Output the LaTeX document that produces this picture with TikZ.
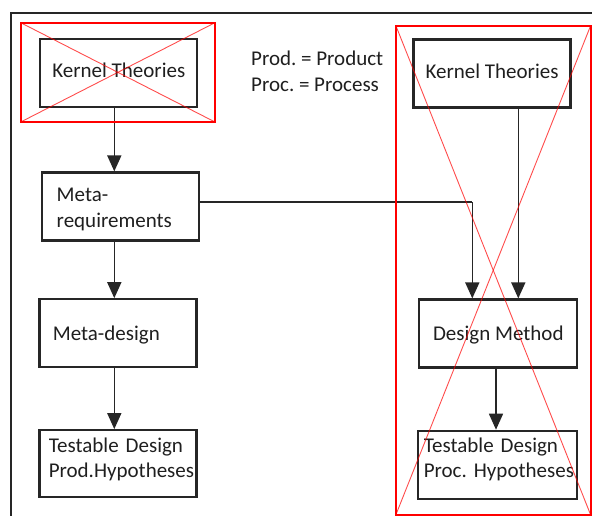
\documentclass[tikz,border=0pt]{standalone}
\usepackage{fontspec}
\setmainfont{Carlito}
\usetikzlibrary{arrows.meta}
% first baseline placed #1 above the node centre; zero-size box so the node does not re-centre it
\newcommand\placelines[2]{\smash{\raisebox{#1}{\begin{tabular}[t]{@{}l@{}}#2\end{tabular}}}}
\tikzset{
  box/.style={draw=black!85, line width=2.2pt, minimum width=157pt, minimum height=68pt,
    inner sep=0pt, font=\fontsize{21}{25.5}\selectfont, text=black!88},
  lbox/.style={box, align=left, inner xsep=#1, text width=157pt-2*#1},
  arr/.style={draw=black!85, line width=1.6pt, -{Triangle[length=16pt,width=14pt]}},
  link/.style={draw=black!85, line width=1.6pt},
  frame/.style={draw=black!85, line width=1.6pt},
  redbox/.style={draw=red, line width=2pt},
  redx/.style={draw=red, line width=0.9pt, draw opacity=0.7},
  legend/.style={font=\fontsize{21}{25}\selectfont, text=black!88, inner sep=0pt, anchor=base west}
}
\begin{document}
\frenchspacing
\begin{tikzpicture}[x=1pt, y=-1pt]
\useasboundingbox (0,0) rectangle (592,516);
\draw[frame] (11,516) -- (11,13) -- (592,13);

% left column
\node[box] (kt1) at (118.8,73) {\smash{\raisebox{-4.3pt}{Kernel Theories}}};
\node[lbox=14.7pt] (mr) at (120.5,206.5) {\placelines{4.8pt}{Meta-\\requirements}};
\node[lbox=13.3pt] (md) at (118,333.3) {\placelines{-6.7pt}{Meta-design}};
\node[lbox=9.3pt, minimum height=67pt] (tp1) at (118,463.7) {\placelines{11.4pt}{Testable Design\\Prod.Hypotheses}};

% right column
\node[box] (kt2) at (492,73.5) {\smash{\raisebox{-5.5pt}{Kernel Theories}}};
\node[box, minimum width=158pt] (dm) at (498.3,333.5) {\smash{\raisebox{-6.5pt}{Design Method}}};
\node[lbox=6pt, minimum width=159pt, text width=147pt] (tp2) at (497.3,464.8) {\placelines{12.5pt}{Testable Design\\Proc. Hypotheses}};

% legend
\node[legend] (lg1) at (251,66) {Prod. = Product};
\node[legend] (lg2) at (251,92) {Proc. = Process};

% helper coordinates
\coordinate (lx) at (114.3,0);
\coordinate (ly) at (0,202);
\coordinate (jx) at (472.3,0);
\coordinate (rx) at (518.3,0);
\coordinate (cx) at (496,0);

% connectors
\draw[arr] (kt1.south -| lx) -- (mr.north -| lx);
\draw[arr] (mr.south -| lx) -- (md.north -| lx);
\draw[arr] (md.south -| lx) -- (tp1.north -| lx);
\draw[link] (mr.east |- ly) -- (jx |- ly);
\draw[arr] (jx |- ly) -- (dm.north -| jx);
\draw[arr] (kt2.south -| rx) -- (dm.north -| rx);
\draw[arr] (dm.south -| cx) -- (tp2.north -| cx);

% red crossed boxes
\draw[redbox] (20.7,22.7) rectangle (215,122);
\draw[redx] (20.7,22.7) -- (215,122);
\draw[redx] (215,22.7) -- (20.7,122);
\draw[redbox] (396,26) rectangle (590.5,514.5);
\draw[redx] (396,26) -- (590.5,514.5);
\draw[redx] (590.5,26) -- (396,514.5);
\end{tikzpicture}
\end{document}
